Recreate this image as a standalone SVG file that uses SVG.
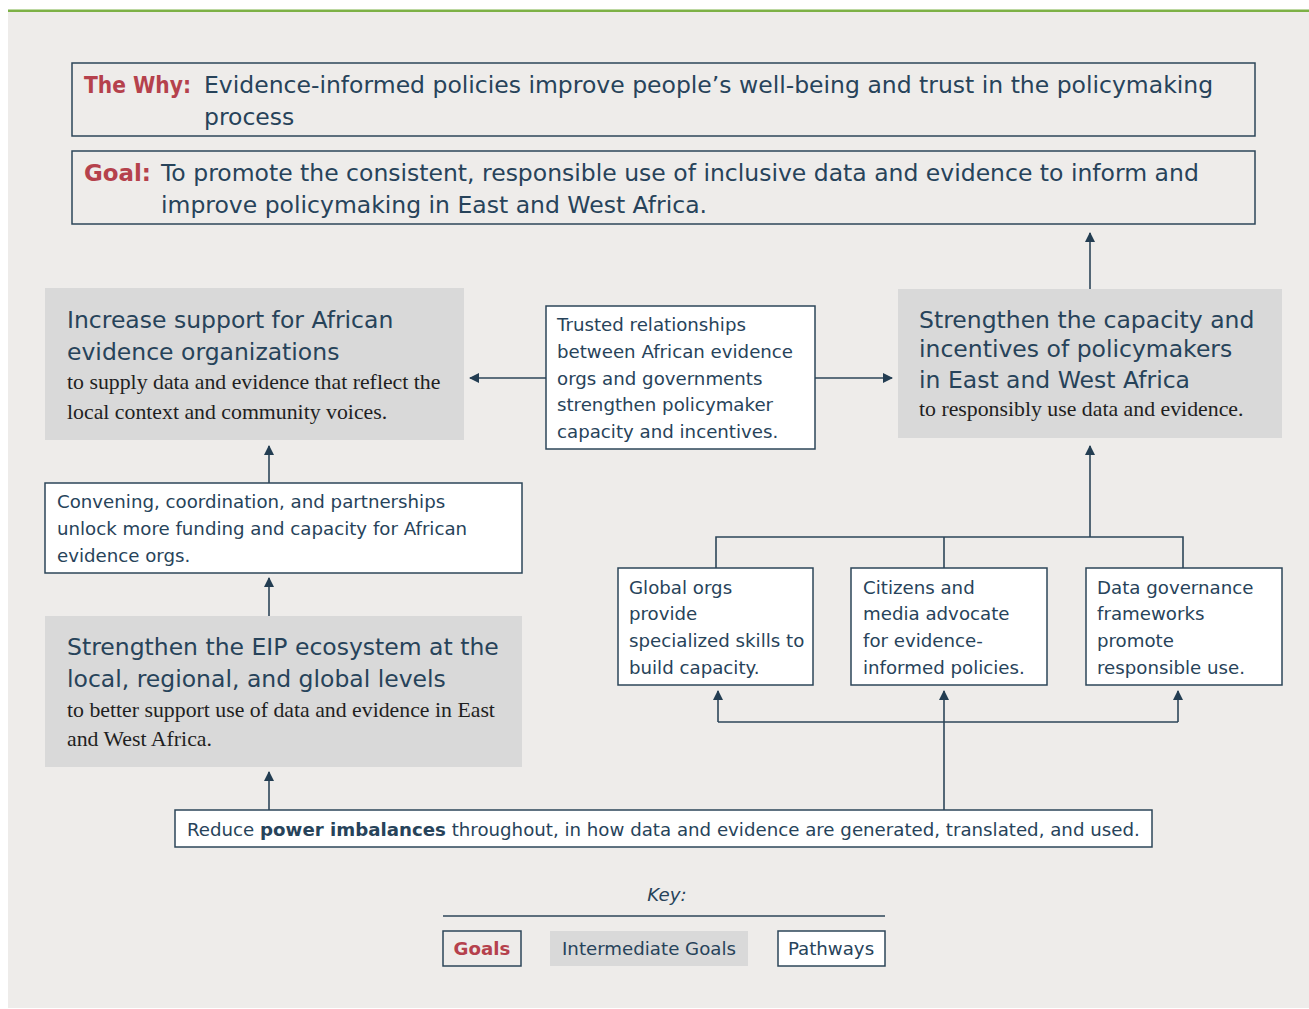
<svg xmlns="http://www.w3.org/2000/svg" width="1309" height="1009" viewBox="0 0 1309 1009">
  <style>
    .sans { font-family: "DejaVu Sans", "Liberation Sans", sans-serif; fill: #27435a; }
    .serif { font-family: "Liberation Serif", "Times New Roman", serif; fill: #1f1f1f; }
    .red { fill: #b5414c; font-weight: bold; }
    .goalbox { fill: none; stroke: #2d4659; stroke-width: 1.5; }
    .pathbox { fill: #ffffff; stroke: #2d4659; stroke-width: 1.5; }
    .midbox { fill: #d9d9d9; }
    .conn { fill: none; stroke: #2d4659; stroke-width: 1.6; }
    .big { font-size: 23.5px; }
    .med { font-size: 18.2px; }
    .sub { font-size: 21.8px; }
  </style>
  <defs>
    <marker id="arrow" viewBox="0 0 10 10" refX="9" refY="5" markerWidth="10" markerHeight="10" markerUnits="userSpaceOnUse" orient="auto">
      <path d="M0,0 L10,5 L0,10 Z" fill="#233d52"/>
    </marker>
  </defs>

  <!-- backdrop panel and top rule -->
  <rect x="0" y="0" width="1309" height="1009" fill="#ffffff"/>
  <rect x="8" y="11" width="1301" height="997" fill="#eeecea"/>
  <rect x="8" y="9.5" width="1301" height="2.5" fill="#7db146"/>

  <!-- connectors -->
  <g id="connectors">
    <line class="conn" x1="1090" y1="289" x2="1090" y2="233" marker-end="url(#arrow)"/>
    <line class="conn" x1="546" y1="378" x2="470" y2="378" marker-end="url(#arrow)"/>
    <line class="conn" x1="815" y1="378" x2="892" y2="378" marker-end="url(#arrow)"/>
    <line class="conn" x1="269" y1="483" x2="269" y2="446" marker-end="url(#arrow)"/>
    <line class="conn" x1="269" y1="616" x2="269" y2="578" marker-end="url(#arrow)"/>
    <line class="conn" x1="269" y1="810" x2="269" y2="772" marker-end="url(#arrow)"/>
    <path class="conn" d="M716,568 V537 H1183 V568 M944,537 V568"/>
    <line class="conn" x1="1090" y1="537" x2="1090" y2="446" marker-end="url(#arrow)"/>
    <line class="conn" x1="944" y1="810" x2="944" y2="691" marker-end="url(#arrow)"/>
    <path class="conn" d="M718,722 H1178"/>
    <line class="conn" x1="718" y1="722" x2="718" y2="691" marker-end="url(#arrow)"/>
    <line class="conn" x1="1178" y1="722" x2="1178" y2="691" marker-end="url(#arrow)"/>
  </g>

  <!-- goals -->
  <g id="the-why">
    <rect class="goalbox" x="72" y="63" width="1183" height="73"/>
    <text class="sans big red" x="84" y="93" textLength="107" lengthAdjust="spacingAndGlyphs">The Why:</text>
    <text class="sans big" x="204" y="93">Evidence-informed policies improve people’s well-being and trust in the policymaking</text>
    <text class="sans big" x="204" y="125">process</text>
  </g>
  <g id="goal">
    <rect class="goalbox" x="72" y="151" width="1183" height="73"/>
    <text class="sans big red" x="84" y="181" textLength="67" lengthAdjust="spacingAndGlyphs">Goal:</text>
    <text class="sans big" x="161" y="181">To promote the consistent, responsible use of inclusive data and evidence to inform and</text>
    <text class="sans big" x="161" y="213">improve policymaking in East and West Africa.</text>
  </g>

  <!-- intermediate goals -->
  <g id="support-orgs">
    <rect class="midbox" x="45" y="288" width="419" height="152"/>
    <text class="sans big" x="67" y="328">Increase support for African</text>
    <text class="sans big" x="67" y="360">evidence organizations</text>
    <text class="serif sub" x="67" y="389">to supply data and evidence that reflect the</text>
    <text class="serif sub" x="67" y="419">local context and community voices.</text>
  </g>
  <g id="policymaker-capacity">
    <rect class="midbox" x="898" y="289" width="384" height="149"/>
    <text class="sans big" x="919" y="328">Strengthen the capacity and</text>
    <text class="sans big" x="919" y="357">incentives of policymakers</text>
    <text class="sans big" x="919" y="388">in East and West Africa</text>
    <text class="serif sub" x="919" y="416">to responsibly use data and evidence.</text>
  </g>
  <g id="eip-ecosystem">
    <rect class="midbox" x="45" y="616" width="477" height="151"/>
    <text class="sans big" x="67" y="655">Strengthen the EIP ecosystem at the</text>
    <text class="sans big" x="67" y="687">local, regional, and global levels</text>
    <text class="serif sub" x="67" y="717">to better support use of data and evidence in East</text>
    <text class="serif sub" x="67" y="746">and West Africa.</text>
  </g>

  <!-- pathways -->
  <g id="trusted-relationships">
    <rect class="pathbox" x="546" y="306" width="269" height="143"/>
    <text class="sans med" x="557" y="331">Trusted relationships</text>
    <text class="sans med" x="557" y="358">between African evidence</text>
    <text class="sans med" x="557" y="385">orgs and governments</text>
    <text class="sans med" x="557" y="411">strengthen policymaker</text>
    <text class="sans med" x="557" y="438">capacity and incentives.</text>
  </g>
  <g id="convening">
    <rect class="pathbox" x="45" y="483" width="477" height="90"/>
    <text class="sans med" x="57" y="508">Convening, coordination, and partnerships</text>
    <text class="sans med" x="57" y="535">unlock more funding and capacity for African</text>
    <text class="sans med" x="57" y="562">evidence orgs.</text>
  </g>
  <g id="global-orgs">
    <rect class="pathbox" x="618" y="568" width="195" height="117"/>
    <text class="sans med" x="629" y="594">Global orgs</text>
    <text class="sans med" x="629" y="620">provide</text>
    <text class="sans med" x="629" y="647">specialized skills to</text>
    <text class="sans med" x="629" y="674">build capacity.</text>
  </g>
  <g id="citizens-media">
    <rect class="pathbox" x="851" y="568" width="196" height="117"/>
    <text class="sans med" x="863" y="594">Citizens and</text>
    <text class="sans med" x="863" y="620">media advocate</text>
    <text class="sans med" x="863" y="647">for evidence-</text>
    <text class="sans med" x="863" y="674">informed policies.</text>
  </g>
  <g id="data-governance">
    <rect class="pathbox" x="1086" y="568" width="196" height="117"/>
    <text class="sans med" x="1097" y="594">Data governance</text>
    <text class="sans med" x="1097" y="620">frameworks</text>
    <text class="sans med" x="1097" y="647">promote</text>
    <text class="sans med" x="1097" y="674">responsible use.</text>
  </g>
  <g id="power-imbalances">
    <rect class="pathbox" x="175" y="810" width="977" height="37"/>
    <text class="sans med" x="187" y="836">Reduce <tspan font-weight="bold">power imbalances</tspan> throughout, in how data and evidence are generated, translated, and used.</text>
  </g>

  <!-- key -->
  <g id="key">
    <text class="sans med" x="667" y="901" text-anchor="middle" font-style="italic">Key:</text>
    <line x1="443" y1="916" x2="885" y2="916" stroke="#2d4659" stroke-width="1.5"/>
    <rect class="goalbox" x="443" y="931" width="78" height="35"/>
    <text class="sans med red" x="482" y="955" text-anchor="middle">Goals</text>
    <rect class="midbox" x="550" y="931" width="198" height="35"/>
    <text class="sans med" x="649" y="955" text-anchor="middle">Intermediate Goals</text>
    <rect class="pathbox" x="778" y="931" width="107" height="35"/>
    <text class="sans med" x="831" y="955" text-anchor="middle">Pathways</text>
  </g>
</svg>
